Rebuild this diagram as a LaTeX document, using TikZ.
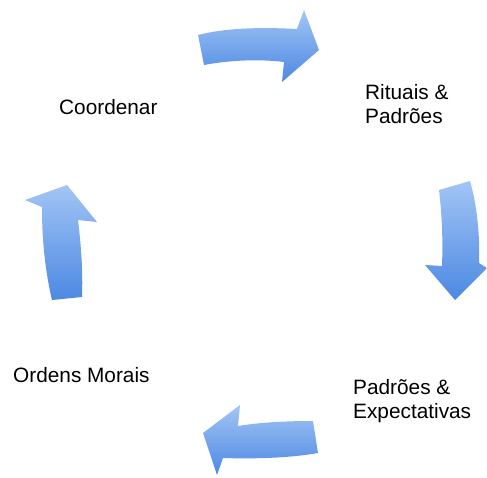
\documentclass[tikz,border=0pt]{standalone}
\usepackage{fontspec}
\setmainfont{Liberation Sans}
\definecolor{arrowlight}{HTML}{A2C5F5}
\definecolor{arrowdark}{HTML}{4C88E2}
\begin{document}
\begin{tikzpicture}[x=1pt,y=-1pt,
  cyc/.style={top color=arrowlight, bottom color=arrowdark, draw=none},
  lbl/.style={font=\fontsize{20.8}{24}\selectfont, inner sep=0pt, align=left, anchor=north west, text=black}]
\useasboundingbox (0,0) rectangle (487,477);
% top arrow (pointing right)
\shade[cyc] (198,35) .. controls (225,28) and (260,27) .. (297,29)
  -- (304,10) -- (319,50) -- (282,82) -- (284,62)
  .. controls (260,59) and (230,60) .. (204,65) -- cycle;
% right arrow (pointing down)
\shade[cyc] (439,190) -- (470,181)
  .. controls (477,205) and (480,235) .. (479,263)
  -- (487,268) -- (455,300) -- (425,265) -- (442,266)
  .. controls (443,240) and (442,215) .. cycle;
% bottom arrow (pointing left)
\shade[cyc] (313,421) .. controls (290,421) and (262,422) .. (238,426)
  -- (240,405) -- (203,433) -- (217,475) -- (223,458)
  .. controls (255,459) and (290,458) .. (318,453) -- cycle;
% left arrow (pointing up)
\shade[cyc] (52,300) .. controls (45,270) and (42,240) .. (42,207)
  -- (25,200) -- (67,185) -- (97,222) -- (78,220)
  .. controls (81,245) and (83,270) .. (82,297) -- cycle;
% labels
\node[lbl] (coord) at (59,99) {Coordenar};
\node[lbl] (rituais) at (365,84) {Rituais \&\\Padrões};
\node[lbl] (padroes) at (353,379) {Padrões \&\\Expectativas};
\node[lbl] (ordens) at (13,367) {Ordens Morais};
\end{tikzpicture}
\end{document}
